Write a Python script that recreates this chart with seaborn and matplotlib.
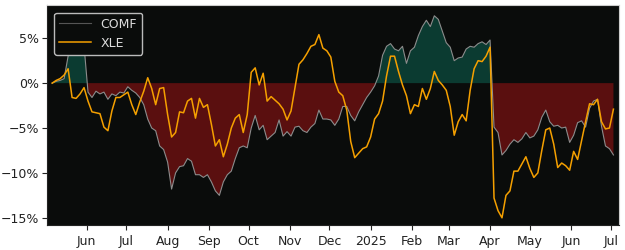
import matplotlib
matplotlib.use("Agg")
import matplotlib.pyplot as plt
import matplotlib.dates as mdates
from matplotlib.ticker import MultipleLocator, PercentFormatter, FuncFormatter
import numpy as np
import pandas as pd
import seaborn as sns

# dates: one reading every 3 calendar days, May 2024 - Jul 2025
dates = pd.date_range("2024-05-06", periods=142, freq="3D")

# cumulative % change of COMF (grey line with fill)
comf = [
    0.0, 0.2, 0.3, 0.5, 3.0, 4.4, 3.4, 3.8, 4.2, -1.0,
    -1.6, -0.9, -1.2, -1.0, -1.8, -1.2, -1.4, -1.0, -1.1, -0.4,
    -0.8, -1.1, -1.6, -2.4, -4.0, -5.0, -5.3, -7.0, -7.4, -8.8,
    -11.8, -10.0, -9.3, -9.2, -8.4, -8.7, -10.2, -10.2, -10.5, -10.2,
    -11.0, -12.0, -12.5, -11.0, -10.2, -9.8, -8.4, -7.2, -7.0, -7.2,
    -5.0, -3.6, -5.2, -4.7, -6.3, -5.9, -5.5, -4.1, -5.9, -5.4,
    -5.9, -4.9, -4.8, -5.3, -5.5, -4.9, -4.5, -3.0, -4.0, -4.0,
    -4.1, -4.7, -4.0, -2.6, -2.6, -3.6, -4.2, -3.2, -2.4, -1.6,
    -1.0, -0.3, 0.8, 3.1, 4.1, 4.4, 3.8, 3.6, 4.1, 2.2,
    3.6, 4.0, 5.3, 6.3, 7.0, 6.3, 7.5, 7.1, 5.8, 4.5,
    4.0, 2.5, 2.8, 2.9, 3.8, 4.1, 4.0, 4.4, 4.6, 4.3,
    4.8, -4.9, -5.5, -8.0, -7.5, -6.8, -6.3, -6.6, -6.2, -5.5,
    -6.1, -5.9, -5.2, -3.8, -3.0, -4.3, -4.8, -4.7, -5.0, -4.9,
    -6.6, -5.8, -4.4, -4.2, -4.9, -2.8, -2.0, -1.8, -4.8, -7.0,
    -7.3, -8.0,
]

# cumulative % change of XLE (orange line)
xle = [
    0.0, 0.3, 0.5, 0.9, 1.6, -1.6, -1.7, -1.2, -0.5, -2.0,
    -3.2, -3.3, -3.4, -4.9, -5.3, -3.1, -1.6, -1.6, -1.3, -1.0,
    -2.4, -3.5, -2.1, -0.9, 0.6, -0.6, -2.4, -0.6, -0.5, -3.5,
    -6.0, -5.5, -3.2, -3.3, -2.0, -1.7, -3.9, -1.7, -2.7, -2.4,
    -4.6, -7.0, -6.3, -8.2, -6.8, -5.0, -3.9, -3.5, -5.5, -3.5,
    1.2, 1.7, -0.2, 1.1, -2.0, -1.5, -1.9, -2.3, -2.9, -4.1,
    -3.1, -0.5, 2.1, 2.6, 3.3, 4.1, 4.3, 5.4, 3.9, 3.6,
    2.9, 0.2, -1.0, -1.4, -3.0, -6.5, -8.3, -7.8, -7.3, -7.1,
    -6.0, -4.0, -3.4, -2.0, 0.8, 3.0, 3.0, 1.3, -0.2, -1.4,
    -3.4, -2.4, -2.6, -0.6, -1.8, -0.6, 1.3, 0.3, -0.2, -0.8,
    -2.6, -5.8, -4.3, -3.5, -4.2, -0.8, 1.6, 2.5, 2.4, 3.0,
    4.0, -12.8, -14.2, -15.0, -12.5, -12.0, -9.8, -9.8, -9.0, -8.2,
    -9.5, -10.5, -10.0, -7.5, -5.2, -5.0, -6.8, -9.4, -8.9, -9.2,
    -9.7, -7.6, -8.5, -6.4, -4.3, -2.3, -2.4, -1.8, -4.3, -5.1,
    -5.0, -2.9,
]

tickers = ["COMF", "XLE"]
line_colors = {"COMF": "#8c8c8c", "XLE": "#f5a000"}

df = pd.DataFrame({"date": dates, "COMF": comf, "XLE": xle})
long_df = df.melt(id_vars="date", var_name="ticker", value_name="pct")

fig = plt.figure(figsize=(6.25, 2.5), dpi=100)
ax = fig.add_axes([0.075, 0.1, 0.915, 0.88])
ax.set_facecolor("#0a0c0b")

c = np.array(comf)
ax.fill_between(df["date"], 0, c, where=c >= 0, interpolate=True,
                color="#0b3b31", linewidth=0)
ax.fill_between(df["date"], 0, c, where=c <= 0, interpolate=True,
                color="#5a0f0f", linewidth=0)

sns.lineplot(data=long_df[long_df.ticker == "COMF"], x="date", y="pct",
             color=line_colors["COMF"], linewidth=0.8, ax=ax, label="COMF")
sns.lineplot(data=long_df[long_df.ticker == "XLE"], x="date", y="pct",
             color=line_colors["XLE"], linewidth=1.1, ax=ax, label="XLE")

ax.set_xlim(pd.Timestamp("2024-05-02"), pd.Timestamp("2025-07-07"))
ax.set_ylim(-15.8, 8.7)
ax.set_xlabel("")
ax.set_ylabel("")

ax.yaxis.set_major_locator(MultipleLocator(5))
ax.yaxis.set_major_formatter(PercentFormatter(decimals=0))
ax.xaxis.set_major_locator(mdates.MonthLocator())
ax.xaxis.set_major_formatter(FuncFormatter(
    lambda v, p: mdates.num2date(v).strftime("%Y") if mdates.num2date(v).month == 1
    else mdates.num2date(v).strftime("%b")))
ax.tick_params(labelsize=9, colors="#222222", length=3.5, width=0.8)
ax.tick_params(axis="y", pad=2)

for s in ["left", "bottom"]:
    ax.spines[s].set_color("#222222")
for s in ["top", "right"]:
    ax.spines[s].set_color("#cccccc")

leg = ax.legend(loc="upper left", fontsize=9, facecolor="#0a0c0b",
                edgecolor="#bbbbbb", framealpha=1.0, labelcolor="#dddddd",
                handlelength=2.5, borderaxespad=0.6)
leg.get_lines()[0].set_color("#555555")

fig.savefig("out.png", dpi=100)
